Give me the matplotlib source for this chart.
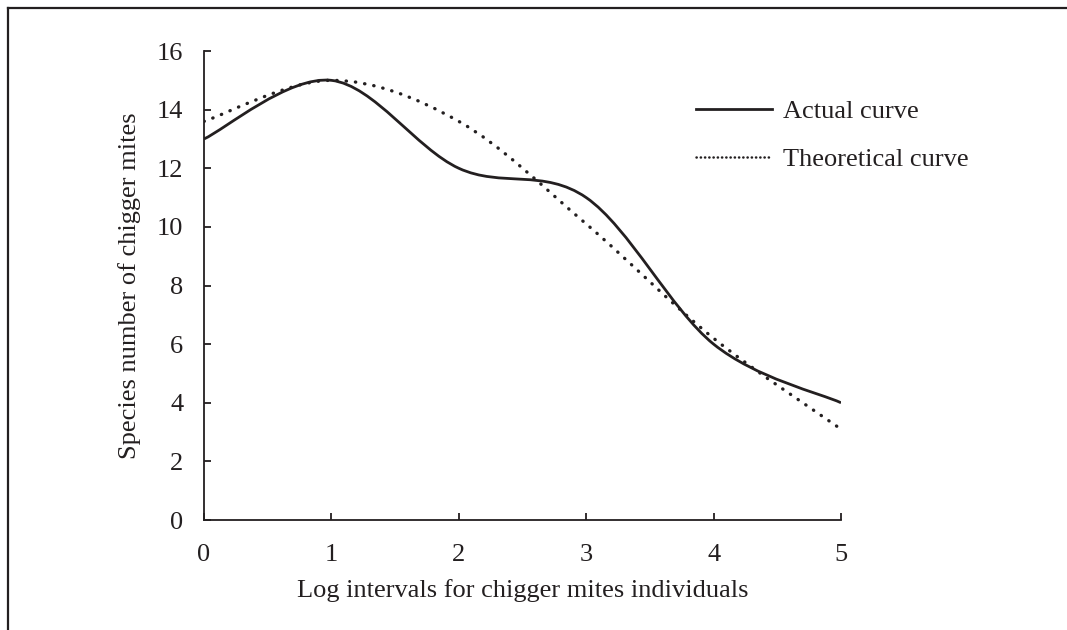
import numpy as np
import matplotlib
matplotlib.use("Agg")
import matplotlib.pyplot as plt
from matplotlib.path import Path
from matplotlib.patches import PathPatch
from matplotlib.lines import Line2D

plt.rcParams['font.family'] = ['Liberation Serif', 'DejaVu Serif']

# Data
log_intervals = [0, 1, 2, 3, 4, 5]
actual_curve = [13, 15, 12, 11, 6, 4]
theoretical_curve = [13.6, 15.0, 13.6, 10.1, 6.2, 3.1]
x_ticks = [0, 1, 2, 3, 4, 5]
y_ticks = [0, 2, 4, 6, 8, 10, 12, 14, 16]
xlabel = "Log intervals for chigger mites individuals"
ylabel = "Species number of chigger mites"
labels = ["Actual curve", "Theoretical curve"]

INK = "#231f20"
FS = 19


def smooth_path(xs, ys):
    """Excel-like smoothed line: Catmull-Rom converted to cubic Bezier."""
    pts = np.column_stack([xs, ys]).astype(float)
    n = len(pts)
    verts = [pts[0]]
    codes = [Path.MOVETO]
    for i in range(n - 1):
        p0 = pts[i - 1] if i > 0 else pts[i]
        p1 = pts[i]
        p2 = pts[i + 1]
        p3 = pts[i + 2] if i + 2 < n else pts[i + 1]
        c1 = p1 + (p2 - p0) / 6.0
        c2 = p2 - (p3 - p1) / 6.0
        verts += [c1, c2, p2]
        codes += [Path.CURVE4] * 3
    return Path(verts, codes)


fig = plt.figure(figsize=(10.67, 6.30), dpi=100)
ax = fig.add_axes([0.1912, 0.1746, 0.5970, 0.7444])

p_act = PathPatch(smooth_path(log_intervals, actual_curve), fill=False,
                  edgecolor=INK, linewidth=2.0, capstyle='butt')
ax.add_patch(p_act)
p_theo = PathPatch(smooth_path(log_intervals, theoretical_curve), fill=False,
                   edgecolor=INK, linewidth=2.4, linestyle=(0, (0.1, 2.7)),
                   capstyle='round')
ax.add_patch(p_theo)

ax.set_xlim(0, 5)
ax.set_ylim(0, 16)
ax.set_xticks(x_ticks)
ax.set_yticks(y_ticks)
ax.set_xticklabels([str(v) for v in x_ticks])
ax.set_yticklabels([str(v) for v in y_ticks])
for s in ['top', 'right']:
    ax.spines[s].set_visible(False)
for s in ['left', 'bottom']:
    ax.spines[s].set_color(INK)
    ax.spines[s].set_linewidth(1.3)
ax.tick_params(axis='both', direction='in', length=5, width=1.3, color=INK,
               labelsize=FS, labelcolor=INK)
ax.tick_params(axis='x', pad=17)
ax.tick_params(axis='y', pad=15)
ax.set_xlabel(xlabel, fontsize=FS, color=INK, labelpad=10)
ax.set_ylabel(ylabel, fontsize=FS, color=INK, labelpad=11)

handles = [Line2D([], [], color=INK, linewidth=2.0),
           Line2D([], [], color=INK, linewidth=1.8, linestyle=(0, (0.1, 1.6)),
                  dash_capstyle='round')]
leg = ax.legend(handles, labels, loc='upper left', bbox_to_anchor=(0.773, 0.897),
                frameon=False, fontsize=FS, handlelength=2.85, handletextpad=0.45,
                labelspacing=0.94, labelcolor=INK, borderaxespad=0, borderpad=0)

# outer frame (top and left edges visible)
fig.add_artist(Line2D([8 / 1067, 1.0], [1 - 7.5 / 630, 1 - 7.5 / 630],
                      transform=fig.transFigure, color=INK, linewidth=1.6))
fig.add_artist(Line2D([8 / 1067, 8 / 1067], [0, 1 - 7.5 / 630],
                      transform=fig.transFigure, color=INK, linewidth=1.6))

fig.savefig("out.png", dpi=100)
